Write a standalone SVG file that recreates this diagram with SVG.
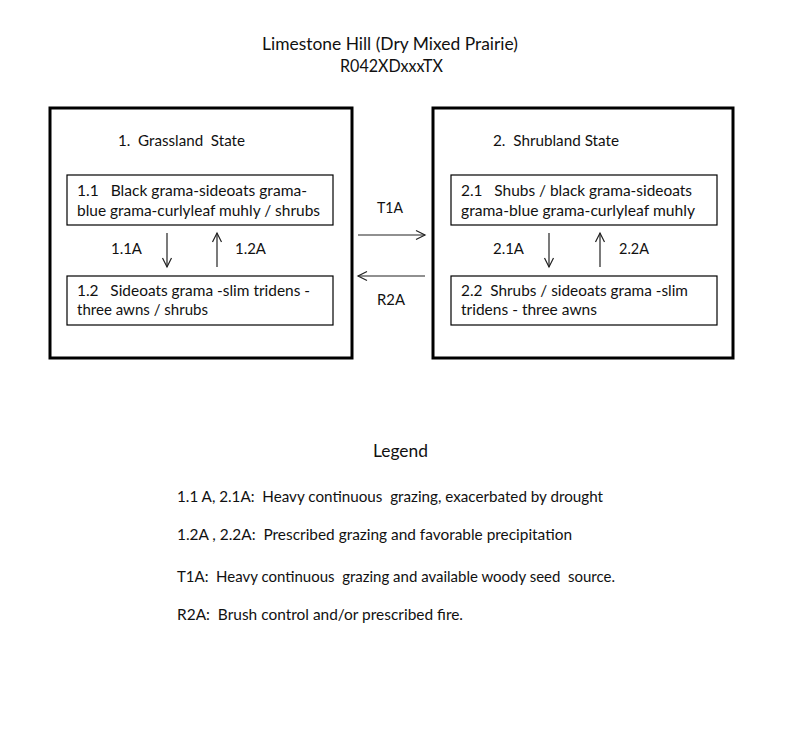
<svg xmlns="http://www.w3.org/2000/svg" width="800" height="750" viewBox="0 0 800 750">
<style>
text{font-family:Lato,"Liberation Sans",sans-serif;font-size:15px;fill:#111;white-space:pre;}
.title{font-size:17px;}
.outer{fill:none;stroke:#000;stroke-width:3;}
.inner{fill:none;stroke:#000;stroke-width:1.2;}
.conn{stroke:#222;stroke-width:1.2;fill:none;}
</style>
<defs>
<marker id="ah" markerWidth="12" markerHeight="12" refX="10" refY="6" orient="auto" markerUnits="userSpaceOnUse">
<path d="M1,1.5 L10,6 L1,10.5" fill="none" stroke="#222" stroke-width="1.2"/>
</marker>
</defs>
<rect width="800" height="750" fill="#fff"/>
<g id="title">
<text class="title" x="262" y="50" textLength="256" lengthAdjust="spacingAndGlyphs">Limestone Hill (Dry Mixed Prairie)</text>
<text class="title" x="340" y="72" textLength="103" lengthAdjust="spacingAndGlyphs">R042XDxxxTX</text>
</g>
<g id="state1">
<rect class="outer" x="50" y="108" width="302" height="250"/>
<text x="118" y="146" textLength="127" lengthAdjust="spacingAndGlyphs" xml:space="preserve">1.  Grassland  State</text>
</g>
<g id="state2">
<rect class="outer" x="433" y="108" width="300" height="250"/>
<text x="493" y="146" textLength="126" lengthAdjust="spacingAndGlyphs" xml:space="preserve">2.  Shrubland State</text>
</g>
<g id="p11">
<rect class="inner" x="67" y="175" width="266" height="50"/>
<text x="77" y="196" textLength="230" lengthAdjust="spacingAndGlyphs" xml:space="preserve">1.1   Black grama-sideoats grama-</text>
<text x="77" y="216" textLength="243" lengthAdjust="spacingAndGlyphs">blue grama-curlyleaf muhly / shrubs</text>
</g>
<g id="p12">
<rect class="inner" x="67" y="276" width="266" height="49"/>
<text x="77" y="296" textLength="233" lengthAdjust="spacingAndGlyphs" xml:space="preserve">1.2   Sideoats grama -slim tridens -</text>
<text x="77" y="315" textLength="131" lengthAdjust="spacingAndGlyphs">three awns / shrubs</text>
</g>
<g id="p21">
<rect class="inner" x="451" y="175" width="266" height="50"/>
<text x="461" y="196" textLength="231" lengthAdjust="spacingAndGlyphs" xml:space="preserve">2.1   Shubs / black grama-sideoats</text>
<text x="461" y="216" textLength="234" lengthAdjust="spacingAndGlyphs">grama-blue grama-curlyleaf muhly</text>
</g>
<g id="p22">
<rect class="inner" x="451" y="276" width="266" height="49"/>
<text x="461" y="296" textLength="227" lengthAdjust="spacingAndGlyphs" xml:space="preserve">2.2  Shrubs / sideoats grama -slim</text>
<text x="461" y="315" textLength="136" lengthAdjust="spacingAndGlyphs">tridens - three awns</text>
</g>
<g id="connectors">
<line class="conn" x1="167" y1="233" x2="167" y2="267" marker-end="url(#ah)"/>
<line class="conn" x1="217" y1="267" x2="217" y2="233" marker-end="url(#ah)"/>
<line class="conn" x1="549" y1="233" x2="549" y2="267" marker-end="url(#ah)"/>
<line class="conn" x1="600" y1="267" x2="600" y2="233" marker-end="url(#ah)"/>
<line class="conn" x1="358" y1="235" x2="425" y2="235" marker-end="url(#ah)"/>
<line class="conn" x1="425" y1="276" x2="358" y2="276" marker-end="url(#ah)"/>
<text x="111" y="254" textLength="31" lengthAdjust="spacingAndGlyphs">1.1A</text>
<text x="235" y="254" textLength="31" lengthAdjust="spacingAndGlyphs">1.2A</text>
<text x="493" y="254" textLength="31" lengthAdjust="spacingAndGlyphs">2.1A</text>
<text x="619" y="254" textLength="30" lengthAdjust="spacingAndGlyphs">2.2A</text>
<text x="377" y="213" textLength="26" lengthAdjust="spacingAndGlyphs">T1A</text>
<text x="377" y="305" textLength="28" lengthAdjust="spacingAndGlyphs">R2A</text>
</g>
<g id="legend">
<text class="title" x="373" y="457" textLength="55" lengthAdjust="spacingAndGlyphs">Legend</text>
<text x="177" y="502" textLength="426" lengthAdjust="spacingAndGlyphs" xml:space="preserve">1.1 A, 2.1A:  Heavy continuous  grazing, exacerbated by drought</text>
<text x="177" y="540" textLength="395" lengthAdjust="spacingAndGlyphs" xml:space="preserve">1.2A , 2.2A:  Prescribed grazing and favorable precipitation</text>
<text x="177" y="582" textLength="438" lengthAdjust="spacingAndGlyphs" xml:space="preserve">T1A:  Heavy continuous  grazing and available woody seed  source.</text>
<text x="177" y="620" textLength="286" lengthAdjust="spacingAndGlyphs" xml:space="preserve">R2A:  Brush control and/or prescribed fire.</text>
</g>
</svg>
